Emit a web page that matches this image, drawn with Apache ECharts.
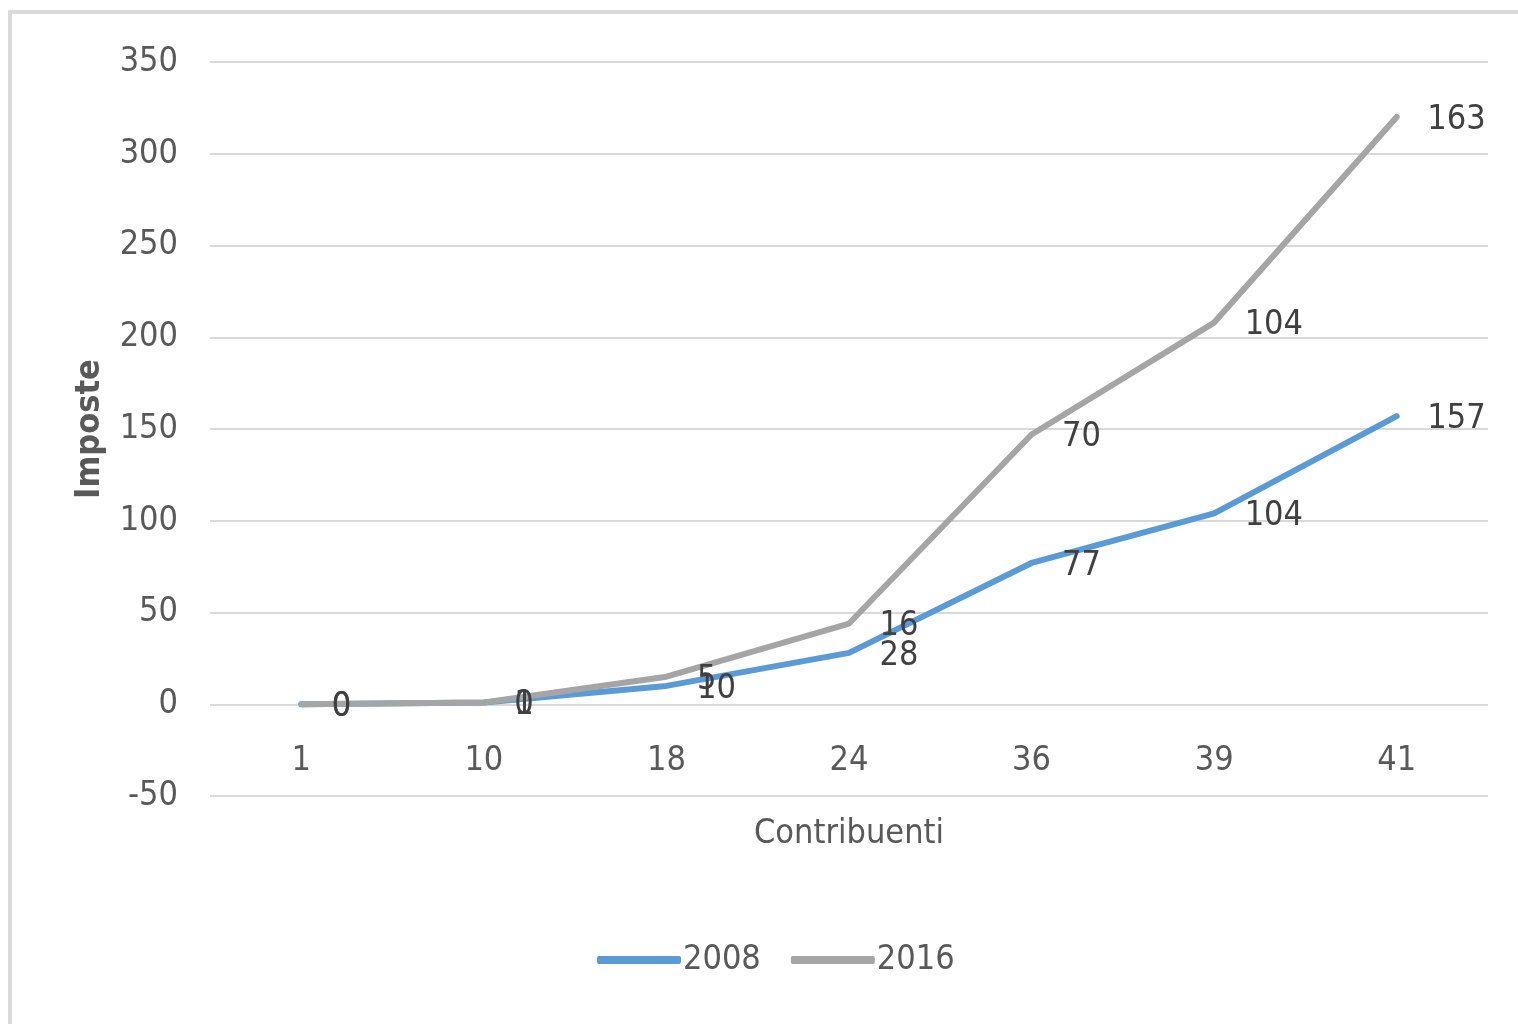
<!DOCTYPE html>
<html>
<head>
<meta charset="utf-8">
<script src="https://cdn.jsdelivr.net/npm/echarts@6/dist/echarts.min.js"></script>
<style>
html,body{margin:0;padding:0;background:#fff;}
#frame{position:absolute;left:8px;top:10px;width:1530px;height:1040px;border:4px solid #D9D9D9;box-sizing:border-box;}
#chart{position:absolute;left:0;top:0;width:1518px;height:1024px;}
</style>
</head>
<body>
<div id="frame"></div>
<div id="chart"></div>
<script>
var categories = ['1', '10', '18', '24', '36', '39', '41'];
var series2008 = [0, 1, 10, 28, 77, 104, 157];
var series2016 = [0, 0, 5, 16, 70, 104, 163];
var seriesNames = ['2008', '2016'];

var FONT = '"DejaVu Sans Condensed", "Liberation Sans Narrow", "Liberation Sans", sans-serif';
var FS = 34;
var chart = echarts.init(document.getElementById('chart'));
function labelStyle() {
  return {
    show: true, position: 'right', distance: 30, offset: [0, 3],
    fontFamily: FONT, fontSize: FS, color: '#404040'
  };
}
chart.setOption({
  animation: false,
  grid: { left: 210, right: 30, top: 62, bottom: 228, containLabel: false },
  legend: {
    bottom: 42, left: 592,
    data: seriesNames,
    icon: 'roundRect', itemWidth: 84, itemHeight: 8, itemGap: 30,
    textStyle: { fontFamily: FONT, fontSize: FS, color: '#595959', padding: [0,0,0,-3] }
  },
  xAxis: {
    type: 'category', data: categories, boundaryGap: true,
    offset: -92,
    name: 'Contribuenti', nameLocation: 'middle', nameGap: 113,
    nameTextStyle: { fontFamily: FONT, fontSize: FS, color: '#595959' },
    axisLine: { show: false, onZero: false },
    axisTick: { show: false },
    axisLabel: { fontFamily: FONT, fontSize: FS, color: '#595959', margin: 40 },
    splitLine: { show: false }
  },
  yAxis: {
    type: 'value', min: -50, max: 350, interval: 50,
    name: 'Imposte', nameLocation: 'middle', nameGap: 103, nameRotate: 90,
    nameTextStyle: { fontFamily: FONT, fontSize: FS, color: '#595959', fontWeight: 'bold' },
    axisLine: { show: false }, axisTick: { show: false },
    axisLabel: { fontFamily: FONT, fontSize: FS, color: '#595959', margin: 32 },
    splitLine: { lineStyle: { color: '#D9D9D9', width: 2 } }
  },
  series: [
    { name: seriesNames[0], type: 'line', stack: 'total', data: series2008,
      showSymbol: true, symbol: 'circle', symbolSize: 1, color: '#5B9BD5',
      lineStyle: { width: 6, color: '#5B9BD5', cap: 'round', join: 'round' },
      label: labelStyle() },
    { name: seriesNames[1], type: 'line', stack: 'total', data: series2016,
      showSymbol: true, symbol: 'circle', symbolSize: 1, color: '#A5A5A5',
      lineStyle: { width: 6, color: '#A5A5A5', cap: 'round', join: 'round' },
      label: labelStyle() }
  ]
});
</script>
</body>
</html>
